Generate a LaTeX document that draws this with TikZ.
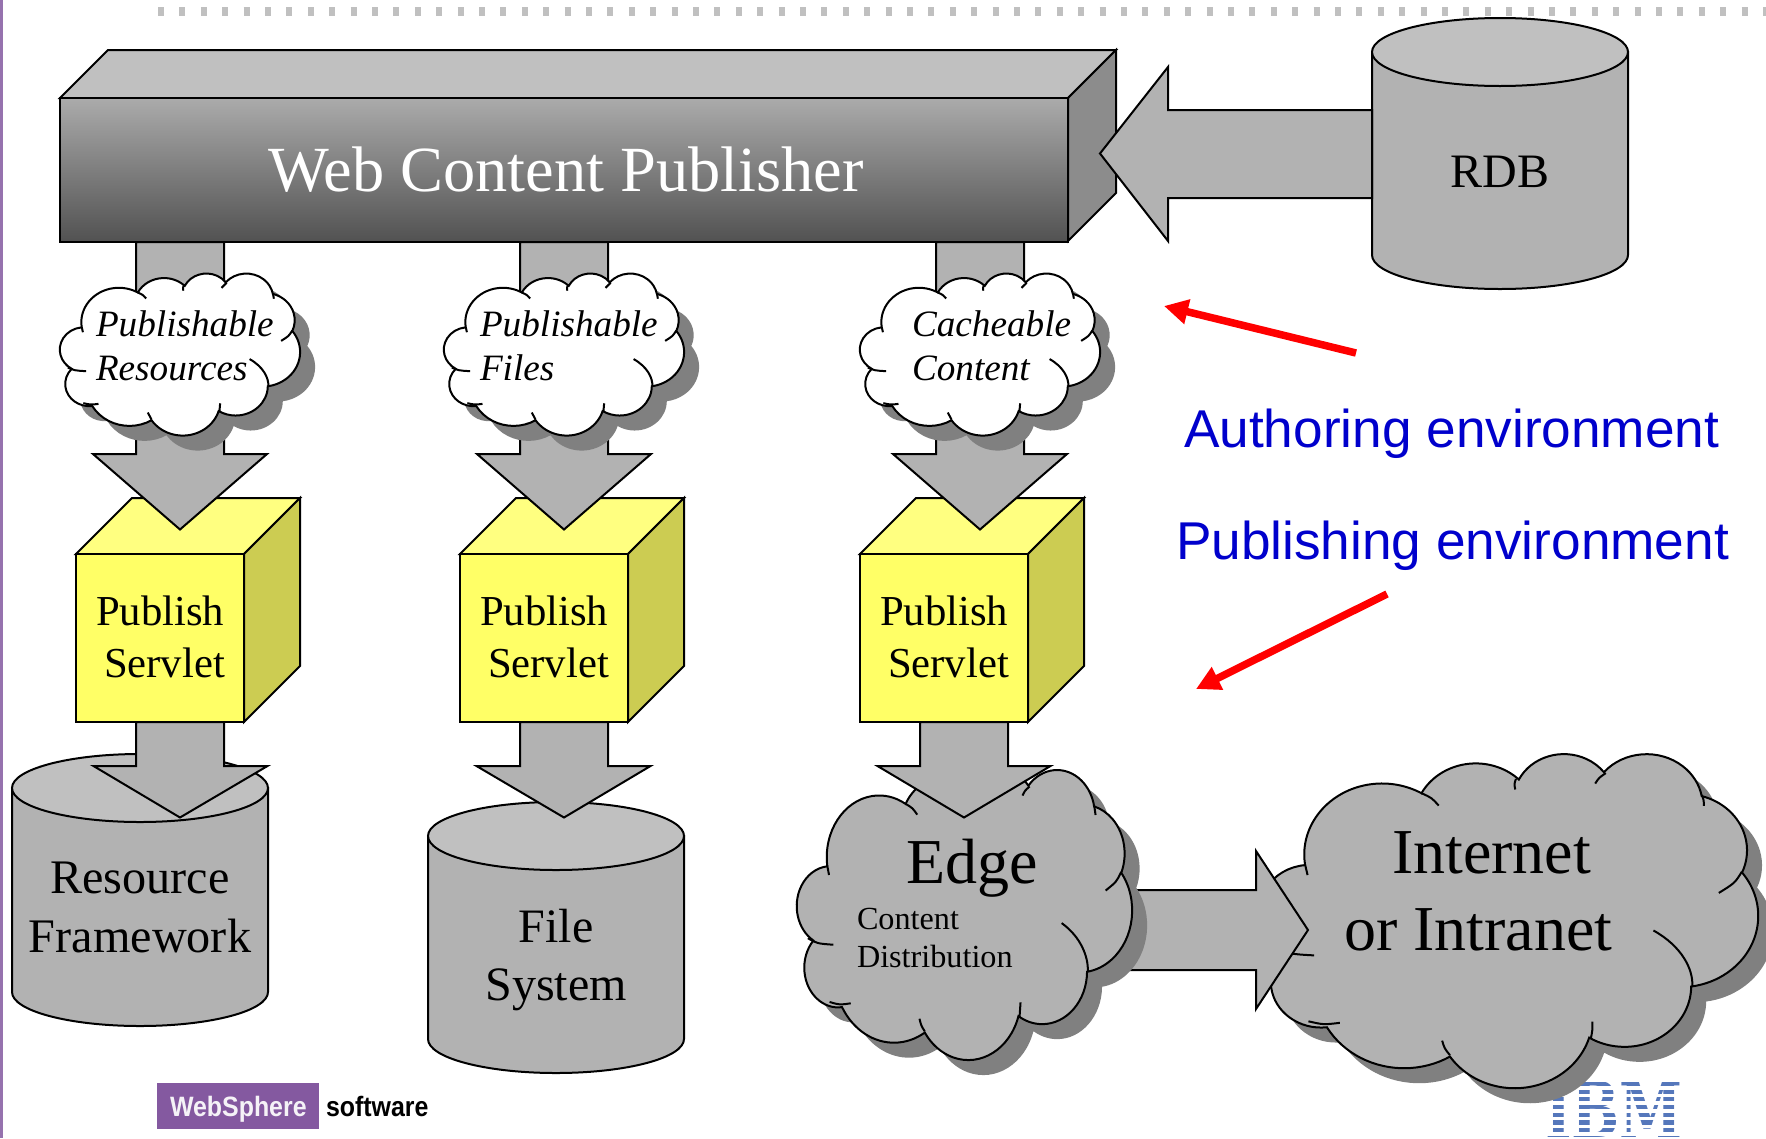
\documentclass[tikz,border=0pt]{standalone}
\usepackage{fontspec}
\setmainfont{Liberation Serif}
\setsansfont{Liberation Sans}
\newfontfamily\ibmfont{DejaVu Serif}
\usetikzlibrary{arrows.meta}
\definecolor{graybody}{HTML}{B2B2B2}
\definecolor{graytop}{HTML}{C0C0C0}
\definecolor{grayside}{HTML}{8C8C8C}
\definecolor{shadowgray}{HTML}{808080}
\definecolor{cubefront}{HTML}{FFFF66}
\definecolor{cubetop}{HTML}{FFFF80}
\definecolor{cubeside}{HTML}{CCCC52}
\definecolor{wspurple}{HTML}{8459A0}
\definecolor{ibmblue}{HTML}{5577BB}
\definecolor{authblue}{HTML}{0000CC}
\newcommand\fsz[1]{\fontsize{#1pt}{1.2\dimexpr#1pt\relax}\selectfont}
\newcommand\defcloudarc[5]{%
  \pgfmathsetmacro\cldA{atan2(#2*sin(#4),#3*cos(#4))}%
  \pgfmathsetmacro\cldB{\cldA+mod(atan2(#2*sin(#4+#5),#3*cos(#4+#5))-\cldA+720,360)}%
  \expandafter\xdef\csname cloudarc#1\endcsname{arc[start angle=\cldA,end angle=\cldB,x radius=#2,y radius=#3]}}
\defcloudarc{A}{67.53}{91.90}{-190.487}{123.781}
\defcloudarc{B}{53.33}{72.67}{-144.102}{89.945}
\defcloudarc{C}{43.65}{59.45}{-145.808}{99.723}
\defcloudarc{D}{48.57}{65.95}{-130.986}{117.242}
\defcloudarc{E}{53.33}{72.73}{-78.709}{109.027}
\defcloudarc{F}{67.75}{92.20}{-46.267}{130.269}
\defcloudarc{G}{57.85}{78.67}{0.625}{114.033}
\defcloudarc{H}{67.52}{92.15}{22.452}{115.173}
\defcloudarc{I}{77.20}{105.43}{66.243}{75.711}
\defcloudarc{J}{43.60}{59.18}{-274.942}{146.736}
\defcloudarc{K}{43.45}{59.45}{-246.829}{152.519}
\newcommand\cloudoutline{(39,143.7) \cloudarcA \cloudarcB \cloudarcC \cloudarcD \cloudarcE \cloudarcF \cloudarcG \cloudarcH \cloudarcI \cloudarcJ \cloudarcK -- cycle}
% cloud: x0 y0 width height fill
\newcommand\cloudshape[5]{%
  \begin{scope}[shift={(#1+15,#2+15)},x=#3pt/432,y=-#4pt/432]
    \fill[shadowgray] \cloudoutline;
  \end{scope}
  \begin{scope}[shift={(#1,#2)},x=#3pt/432,y=-#4pt/432]
    \draw[line,fill=#5] \cloudoutline;
    \draw[line] (39,143.7) .. controls (39.5,150) .. (41.27,157.89);
    \draw[line] (140,51.92) .. controls (149,58) .. (155,68);
    \draw[line] (222,33.5) .. controls (220.5,40) .. (221.41,47.2);
    \draw[line] (300,26) .. controls (294,32) .. (290.78,39.52);
    \draw[line] (383.24,54.26) .. controls (385,61) .. (385,68.5);
    \draw[line] (418,153.5) .. controls (412,168) .. (398,181);
    \draw[line] (341.29,229.54) .. controls (366,250) and (376,280) .. (375,302);
    \draw[line] (288.27,347.51) .. controls (288.5,358) .. (287,369);
    \draw[line] (158,372) .. controls (160,382) .. (164.78,390.9);
    \draw[line] (42,347) .. controls (55,351.5) .. (69.28,348.99);
    \draw[line] (14,252) .. controls (26,260) .. (46.93,261.77);
  \end{scope}}
% down arrow: shaft left, shaft right, top, head left, head right, head y, tip x, tip y
\newcommand\blockdown[8]{%
  \draw[line,fill=graybody] (#1,#3) -- (#1,#6) -- (#4,#6) -- (#7,#8) -- (#5,#6) -- (#2,#6) -- (#2,#3) -- cycle;}
% cylinder: left right cytop cybottom ry
\newcommand\cylshape[5]{%
  \draw[line,fill=graybody] (#1,#3) -- (#1,#4) arc[start angle=180,end angle=0,x radius={(#2-#1)/2},y radius=#5] -- (#2,#3) -- cycle;
  \draw[line,fill=graytop] ({(#1+#2)/2},#3) ellipse[x radius={(#2-#1)/2},y radius=#5];}
% cube: left right top bottom (front), depth
\newcommand\cubeshape[4]{%
  \draw[line,fill=cubetop] (#1,#3) -- (#1+56,#3-56) -- (#2+56,#3-56) -- (#2,#3) -- cycle;
  \draw[line,fill=cubeside] (#2,#3) -- (#2+56,#3-56) -- (#2+56,#4-56) -- (#2,#4) -- cycle;
  \draw[line,fill=cubefront] (#1,#3) rectangle (#2,#4);}
\begin{document}
\begin{tikzpicture}[x=1pt,y=-1pt,
  line/.style={draw=black,line width=2pt,line join=miter},
  lbl/.style={inner sep=0pt,outer sep=0pt,anchor=base west,align=left}]
\useasboundingbox (0,0) rectangle (1766,1138);
\clip (0,0) rectangle (1766,1138);
\fill[white] (0,0) rectangle (1766,1138);
% frame decoration
\fill[wspurple!85!white] (0,0) rectangle (3,1138);
\draw[graytop,line width=9pt,dash pattern=on 6pt off 15.4pt] (158,11.5) -- (1766,11.5);
% logos
\node[fill=wspurple,text=white,minimum width=162pt,minimum height=46pt,inner sep=0pt,anchor=north west] (ws) at (157,1083) {};
\node[lbl,text=white!92!wspurple,font=\sffamily\bfseries\fsz{28},xscale=0.89] (wstext) at (170,1116) {WebSphere};
\node[lbl,font=\sffamily\bfseries\fsz{28},xscale=0.89] (sw) at (326,1116) {software};
\node[inner sep=0pt,anchor=base,text=ibmblue,font=\ibmfont\bfseries\fsz{77},xscale=0.74] (ibm) at (1614,1137) {IBM};
\foreach \yy in {1086,1093.7,1101.4,1109.1,1116.8,1124.5,1132.2}
  \fill[white] (1530,\yy) rectangle (1700,\yy+3.6);
\fill[white] (1530,1078.4) rectangle (1700,1082);
% Internet cloud
\cloudshape{1260}{753}{498}{334}{graybody}
\node[lbl,font=\fsz{64}] (internet) at (1392,873) {Internet};
\node[lbl,font=\fsz{64}] (intranet) at (1344,950) {or Intranet};
% arrow edge to internet
\draw[line,fill=graybody] (1100,890) -- (1256,890) -- (1256,851) -- (1308,930) -- (1256,1009) -- (1256,970) -- (1100,970) -- cycle;
% Edge cloud
\cloudshape{797}{769}{335}{290}{graybody}
\node[lbl,font=\fsz{64}] (edge) at (906,883) {Edge};
\node[lbl,font=\fsz{32.2}] (cdn1) at (857,929) {Content};
\node[lbl,font=\fsz{32.2}] (cdn2) at (857,967) {Distribution};
% cylinders
\cylshape{12}{268}{788}{992}{34}
\cylshape{428}{684}{836}{1039}{34}
\node[inner sep=0pt,anchor=base,font=\fsz{48.2}] (rf1) at (140,893) {Resource};
\node[inner sep=0pt,anchor=base,font=\fsz{48.2}] (rf2) at (140,952) {Framework};
\node[inner sep=0pt,anchor=base,font=\fsz{48}] (fs1) at (556,942) {File};
\node[inner sep=0pt,anchor=base,font=\fsz{48}] (fs2) at (556,1000) {System};
% cubes
\cubeshape{76}{244}{554}{722}
\cubeshape{460}{628}{554}{722}
\cubeshape{860}{1028}{554}{722}
% lower arrows
\blockdown{136}{224}{722}{93.5}{267.5}{766}{180}{817.5}
\blockdown{520}{608}{722}{476.5}{650.5}{766}{564}{817.5}
\blockdown{920}{1008}{722}{877.5}{1050.5}{766}{964}{817.5}
% upper arrows
\blockdown{136}{224}{242}{93}{267}{454}{180}{529.5}
\blockdown{520}{608}{242}{477}{651}{454}{564}{529.5}
\blockdown{936}{1024}{242}{893}{1067}{454}{980}{529.5}
% servlet text
\node[lbl,font=\fsz{42.7}] (ps1a) at (96,625) {Publish};
\node[lbl,font=\fsz{42.7}] (ps1b) at (104,677) {Servlet};
\node[lbl,font=\fsz{42.7}] (ps2a) at (480,625) {Publish};
\node[lbl,font=\fsz{42.7}] (ps2b) at (488,677) {Servlet};
\node[lbl,font=\fsz{42.7}] (ps3a) at (880,625) {Publish};
\node[lbl,font=\fsz{42.7}] (ps3b) at (888,677) {Servlet};
% white clouds
\cloudshape{60}{273}{240}{162}{white}
\cloudshape{444}{273}{240}{162}{white}
\cloudshape{860}{273}{240}{162}{white}
\node[lbl,font=\itshape\fsz{37.2}] (c1a) at (96,336) {Publishable};
\node[lbl,font=\itshape\fsz{37.2}] (c1b) at (96,380) {Resources};
\node[lbl,font=\itshape\fsz{37.2}] (c2a) at (480,336) {Publishable};
\node[lbl,font=\itshape\fsz{37.2}] (c2b) at (480,380) {Files};
\node[lbl,font=\itshape\fsz{37.2}] (c3a) at (912,336) {Cacheable};
\node[lbl,font=\itshape\fsz{37.2}] (c3b) at (912,380) {Content};
% RDB
\cylshape{1372}{1628}{52}{255}{34}
\node[inner sep=0pt,anchor=base,font=\fsz{48}] (rdb) at (1500,187) {RDB};
% publisher box
\draw[line,fill=graytop] (60,98) -- (108,50) -- (1116,50) -- (1068,98) -- cycle;
\draw[line,fill=grayside] (1068,98) -- (1116,50) -- (1116,193) -- (1068,241) -- cycle;
\draw[line,top color=black!33,bottom color=black!68] (60,98) rectangle (1068,242);
\node[lbl,text=white,font=\fsz{64.4}] (wcp) at (268,191) {Web Content Publisher};
% big arrow
\draw[line,fill=graybody] (1372,110) -- (1168,110) -- (1168,67) -- (1100,153.5) -- (1168,241) -- (1168,198) -- (1372,198) -- cycle;
% environment labels
\node[lbl,text=authblue,font=\sffamily\fsz{53.2}] (auth) at (1184,447.5) {Authoring environment};
\node[lbl,text=authblue,font=\sffamily\fsz{53.2}] (pub) at (1176,559.5) {Publishing environment};
\coordinate (r1a) at (1356,353);
\coordinate (r1b) at (1164,306);
\coordinate (r2a) at (1387,594);
\coordinate (r2b) at (1196,689);
\draw[red,line width=7.5pt,-{Triangle[length=24pt,width=24pt]}] (r1a) -- (r1b);
\draw[red,line width=7.5pt,-{Triangle[length=24pt,width=24pt]}] (r2a) -- (r2b);
\end{tikzpicture}
\end{document}
